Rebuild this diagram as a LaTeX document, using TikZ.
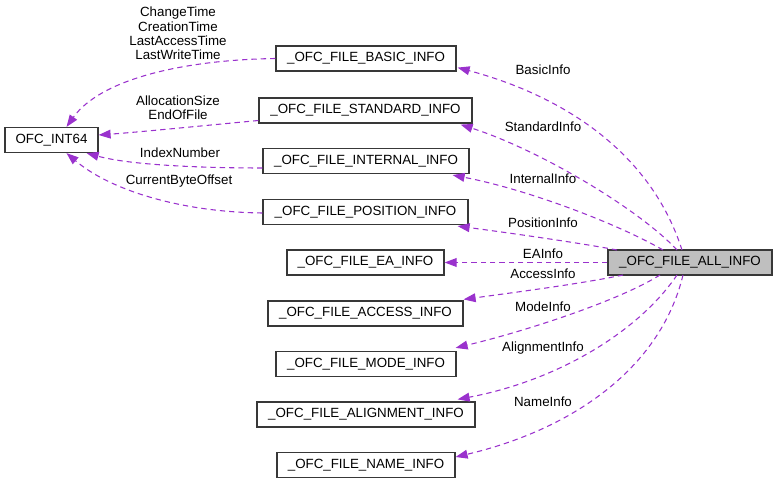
\documentclass[tikz,border=0pt]{standalone}
\usepackage{fontspec}
\setmainfont{Liberation Sans}
\usetikzlibrary{arrows.meta,calc}
\definecolor{edgec}{HTML}{9A32CD}
\definecolor{allfill}{HTML}{BFBFBF}
\begin{document}
\begin{tikzpicture}[x=0.75pt,y=-0.75pt,
  font=\fontsize{10}{10.75}\selectfont,
  box/.style={draw=black!78,line width=0.9pt,fill=white,minimum height=18.75pt,inner sep=0pt},
  lbl/.style={inner sep=0pt,align=center},
  rel/.style={draw=edgec,line width=0.8pt,dash pattern=on 4pt off 3pt,-{Triangle[length=9pt,width=6.6pt]}}]
\useasboundingbox (0,0) rectangle (777,484);
% nodes
\node[box,minimum width=69.75pt] (int64) at (51.5,140) {OFC\_INT64};
\node[box,minimum width=135pt] (basic) at (366,58.5) {\_OFC\_FILE\_BASIC\_INFO};
\node[box,minimum width=159.75pt] (standard) at (365.5,110.5) {\_OFC\_FILE\_STANDARD\_INFO};
\node[box,minimum width=154.5pt] (internal) at (366,161) {\_OFC\_FILE\_INTERNAL\_INFO};
\node[box,minimum width=153.75pt] (position) at (365.5,212) {\_OFC\_FILE\_POSITION\_INFO};
\node[box,minimum width=117.75pt] (ea) at (365.5,262.5) {\_OFC\_FILE\_EA\_INFO};
\node[box,minimum width=146.25pt] (access) at (365.5,313.5) {\_OFC\_FILE\_ACCESS\_INFO};
\node[box,minimum width=135pt] (mode) at (366,364) {\_OFC\_FILE\_MODE\_INFO};
\node[box,minimum width=163.5pt] (alignment) at (366,414.5) {\_OFC\_FILE\_ALIGNMENT\_INFO};
\node[box,minimum width=133.5pt] (name) at (366,465) {\_OFC\_FILE\_NAME\_INFO};
\node[box,fill=allfill,minimum width=123pt] (all) at (690,262.5) {\_OFC\_FILE\_ALL\_INFO};
% anchor points
\coordinate (aBs) at (682,250);
\coordinate (aSt) at (677,250);
\coordinate (aIn) at (663,250);
\coordinate (aPo) at (617,250);
\coordinate (aAc) at (623,275);
\coordinate (aMo) at (660,275);
\coordinate (aAl) at (677,275);
\coordinate (aNa) at (683,275);
% edges to members
\draw[rel] (aBs) .. controls (650,150) and (560,95) .. ($(basic.south east)+(1,-4)$);
\draw[rel] (aSt) .. controls (640,210) and (540,150) .. ($(standard.south east)+(-12,1)$);
\draw[rel] (aIn) .. controls (620,225) and (530,190) .. ($(internal.south east)+(-17,1)$);
\draw[rel] (aPo) .. controls (580,243) and (510,233) .. ($(position.south east)+(-11,1)$);
\draw[rel] (all.west) -- (ea.east);
\draw[rel] (aAc) .. controls (580,284) and (510,293) .. ($(access.north east)+(0,-1)$);
\draw[rel] (aMo) .. controls (620,300) and (530,330) .. ($(mode.north east)+(-1,-3)$);
\draw[rel] (aAl) .. controls (640,330) and (560,380) .. ($(alignment.north east)+(-18,-2)$);
\draw[rel] (aNa) .. controls (660,370) and (570,430) .. ($(name.east)+(0,-8)$);
% edges to OFC_INT64
\draw[rel] (basic.west) .. controls (180,60) and (100,80) .. ($(int64.north)+(15,0)$);
\draw[rel] ($(standard.west)+(0,10)$) .. controls (200,126) and (140,132) .. ($(int64.east)+(0,-5)$);
\draw[rel] ($(internal.west)+(0,7)$) .. controls (200,168) and (130,165) .. ($(int64.south east)+(-12,0)$);
\draw[rel] ($(position.west)+(0,1)$) .. controls (180,212) and (110,190) .. ($(int64.south)+(15,0)$);
% labels
\node[lbl] (lTimes) at (178,33.5) {ChangeTime\\CreationTime\\LastAccessTime\\LastWriteTime};
\node[lbl] (lAlloc) at (178,107.5) {AllocationSize\\EndOfFile};
\node[lbl] (lIndex) at (180,153) {IndexNumber};
\node[lbl] (lCur) at (179,181) {CurrentByteOffset};
\node[lbl] (lBasic) at (543,70) {BasicInfo};
\node[lbl] (lStd) at (543,127) {StandardInfo};
\node[lbl] (lInt) at (543,179) {InternalInfo};
\node[lbl] (lPos) at (543,223) {PositionInfo};
\node[lbl] (lEA) at (543,254) {EAInfo};
\node[lbl] (lAcc) at (543,274) {AccessInfo};
\node[lbl] (lMode) at (543,307) {ModeInfo};
\node[lbl] (lAlign) at (543,348) {AlignmentInfo};
\node[lbl] (lName) at (543,402) {NameInfo};
\end{tikzpicture}
\end{document}
